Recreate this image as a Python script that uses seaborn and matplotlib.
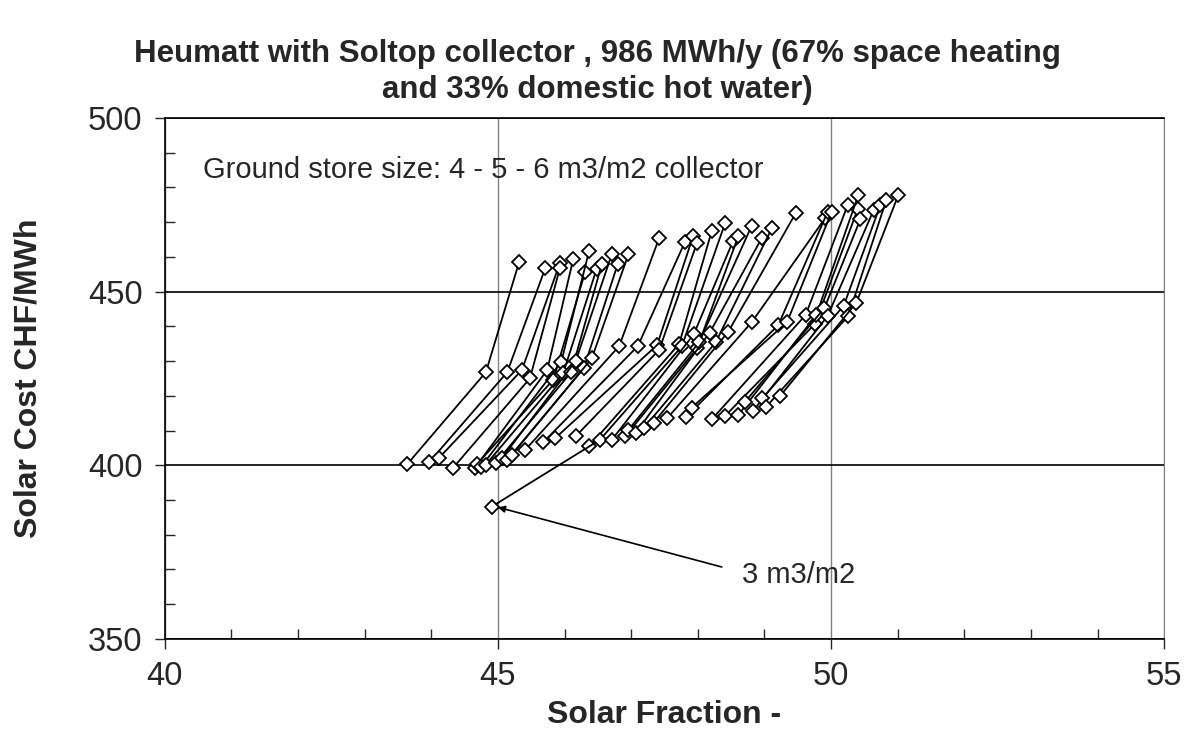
import pandas as pd
import seaborn as sns
import matplotlib.pyplot as plt
from matplotlib.ticker import MultipleLocator

# store sizes 4 - 5 - 6 m3/m2 collector, one line per variant
sf_4 = [43.64, 43.97, 44.12, 44.33, 44.65, 44.69, 44.75, 44.82, 44.97, 45.06, 45.14, 45.21,
        45.41, 45.68, 45.86, 46.17, 46.37, 46.53, 46.71, 46.91, 46.96, 47.07, 47.19, 47.34,
        47.54, 47.83, 47.91, 48.21, 48.41, 48.61, 48.71, 48.83, 48.97, 49.03, 49.23]
cost_4 = [400.3, 400.9, 402.2, 399.3, 399.1, 400.4, 399.6, 400.2, 400.7, 402.0, 401.5, 403.0,
          404.4, 406.6, 407.8, 408.4, 405.4, 407.3, 407.3, 408.3, 410.2, 409.4, 410.7, 412.3,
          413.5, 414.0, 416.6, 413.2, 414.2, 414.5, 418.3, 415.6, 419.3, 416.9, 419.8]
sf_5 = [44.82, 45.14, 45.36, 45.48, 45.74, 45.83, 45.95, 45.98, 46.10, 46.17, 46.29, 46.41,
        46.82, 47.10, 47.39, 47.42, 47.72, 47.76, 47.94, 47.99, 48.02, 48.18, 48.27, 48.46,
        48.81, 49.21, 49.34, 49.62, 49.76, 49.78, 49.90, 49.95, 50.19, 50.26, 50.38]
cost_5 = [426.8, 426.8, 427.4, 425.0, 427.4, 424.6, 429.7, 426.5, 426.8, 430.1, 428.0, 430.8,
          434.3, 434.3, 434.6, 433.2, 434.9, 434.2, 437.7, 433.7, 435.4, 438.2, 435.4, 438.5,
          441.2, 440.4, 441.2, 443.3, 440.7, 443.3, 445.2, 443.0, 445.9, 443.0, 446.8]
sf_6 = [45.32, 45.71, 45.93, 45.93, 46.13, 46.31, 46.37, 46.48, 46.56, 46.71, 46.80, 46.96,
        47.42, 47.81, 47.93, 47.99, 48.21, 48.41, 48.53, 48.61, 48.81, 48.96, 49.11, 49.47,
        49.91, 49.95, 50.01, 50.25, 50.40, 50.41, 50.44, 50.64, 50.74, 50.83, 51.01]
cost_6 = [458.6, 456.7, 458.2, 456.7, 459.3, 455.7, 461.8, 456.4, 457.9, 460.8, 458.0, 460.8,
          465.4, 464.4, 466.0, 464.1, 467.5, 469.7, 464.6, 466.0, 469.0, 465.4, 468.2, 472.6,
          471.1, 473.0, 473.0, 474.9, 473.7, 477.8, 470.8, 473.5, 474.9, 476.4, 477.8]

# one variant also with 3 m3/m2
sf_3 = 44.91
cost_3 = 388.1
line_3 = 17

rows = []
for i in range(len(sf_4)):
    if i == line_3:
        rows.append((i, 0, sf_3, cost_3))
    rows.append((i, 1, sf_4[i], cost_4[i]))
    rows.append((i, 2, sf_5[i], cost_5[i]))
    rows.append((i, 3, sf_6[i], cost_6[i]))
df = pd.DataFrame(rows, columns=['line', 'step', 'sf', 'cost'])

sns.set_style('white')
plt.rcParams['font.family'] = ['Liberation Sans', 'DejaVu Sans']

fig, ax = plt.subplots(figsize=(11.94, 7.42), dpi=100)
fig.subplots_adjust(left=0.138, right=0.975, top=0.841, bottom=0.139)

sns.lineplot(data=df, x='sf', y='cost', units='line', estimator=None, sort=False,
             color='black', linewidth=1.3, marker='D', markersize=7.5,
             markerfacecolor='white', markeredgecolor='black', markeredgewidth=1.3,
             legend=False, ax=ax)

ax.set_xlim(40, 55)
ax.set_ylim(350, 500)
ax.xaxis.set_major_locator(MultipleLocator(5))
ax.xaxis.set_minor_locator(MultipleLocator(1))
ax.yaxis.set_major_locator(MultipleLocator(50))
ax.yaxis.set_minor_locator(MultipleLocator(10))

ax.xaxis.grid(True, which='major', color='#808080', linewidth=1)
ax.yaxis.grid(True, which='major', color='black', linewidth=1.2)
ax.set_axisbelow(True)

ax.tick_params(which='major', direction='out', length=7, width=1, labelsize=23.5,
               bottom=True, left=True, pad=9)
ax.tick_params(which='minor', direction='in', length=7, width=1, bottom=True, left=True)

for side in ['left', 'bottom', 'top']:
    ax.spines[side].set_color('black')
    ax.spines[side].set_linewidth(1.2)
ax.spines['right'].set_color('#808080')

ax.set_xlabel('Solar Fraction -', fontsize=23, fontweight='bold', labelpad=6)
ax.set_ylabel('Solar Cost CHF/MWh', fontsize=23, fontweight='bold', labelpad=32)
fig.suptitle('Heumatt with Soltop collector , 986 MWh/y (67% space heating\nand 33% domestic hot water)',
             fontsize=22.5, fontweight='bold', y=0.948, linespacing=1.3)

ax.text(40.57, 485, 'Ground store size: 4 - 5 - 6 m3/m2 collector', fontsize=21, va='center')
ax.text(48.66, 368.4, '3 m3/m2', fontsize=21, va='center', ha='left')
ax.annotate('', xy=(sf_3 + 0.05, cost_3), xytext=(48.36, 370.7),
            arrowprops=dict(arrowstyle='-|>', color='black', lw=1.2, shrinkA=0, shrinkB=2))

fig.savefig('out.png', dpi=100)
